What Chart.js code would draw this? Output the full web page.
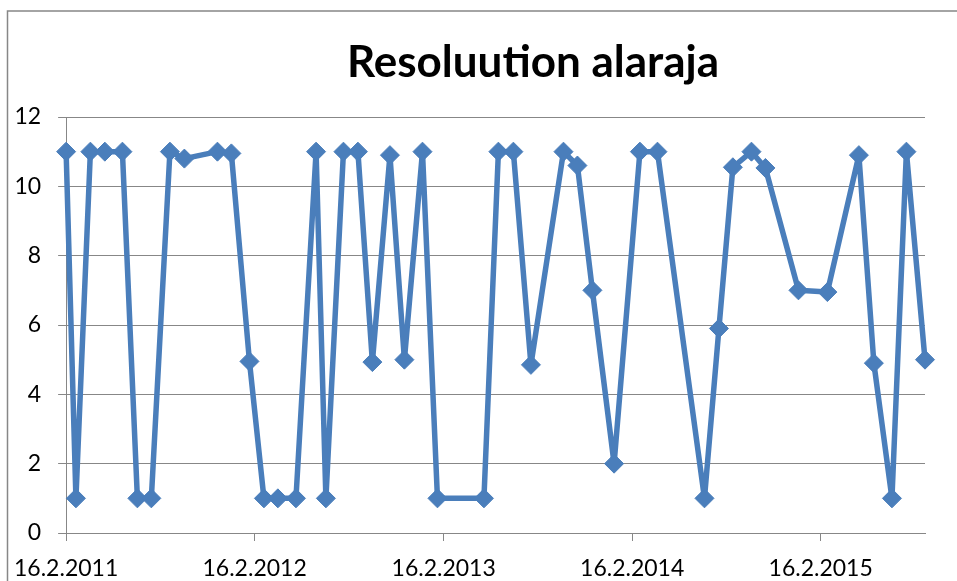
<!DOCTYPE html>
<html>
<head>
<meta charset="utf-8">
<title>Resoluution alaraja</title>
<script src="https://cdn.jsdelivr.net/npm/chart.js@4.4.1/dist/chart.umd.min.js"></script>
<style>
  html, body { margin: 0; padding: 0; background: #fff; }
  #wrap { width: 957px; height: 581px; overflow: hidden; }
</style>
</head>
<body>
<div id="wrap"><canvas id="chart" width="957" height="581"></canvas></div>
<script>
// measurement dates (d.m.yyyy) and the lower resolution limit for each
const dates = [
  "16.2.2011", "7.3.2011", "4.4.2011", "2.5.2011", "5.6.2011", "4.7.2011", "31.7.2011",
  "5.9.2011", "3.10.2011", "6.12.2011", "2.1.2012", "6.2.2012", "5.3.2012", "1.4.2012",
  "6.5.2012", "14.6.2012", "3.7.2012", "6.8.2012", "3.9.2012", "1.10.2012", "4.11.2012",
  "2.12.2012", "6.1.2013", "4.2.2013", "5.5.2013", "2.6.2013", "1.7.2013", "4.8.2013",
  "6.10.2013", "2.11.2013", "1.12.2013", "12.1.2014", "3.3.2014", "6.4.2014", "6.7.2014",
  "3.8.2014", "30.8.2014", "5.10.2014", "1.11.2014", "4.1.2015", "1.3.2015", "1.5.2015",
  "30.5.2015", "4.7.2015", "1.8.2015", "6.9.2015"
];
const values = [
  11, 1, 11, 11, 11, 1, 1,
  11, 10.8, 11, 10.95, 4.95, 1, 1,
  1, 11, 1, 11, 11, 4.93, 10.9,
  5, 11, 1, 1, 11, 11, 4.85,
  11, 10.6, 7, 2, 11, 11, 1,
  5.9, 10.55, 11, 10.53, 7, 6.95, 10.9,
  4.9, 1, 11, 5
];
const tickDates = ["16.2.2011", "16.2.2012", "16.2.2013", "16.2.2014", "16.2.2015"];
const yMin = 0, yMax = 12, yStep = 2;
const titleText = "Resoluution alaraja";

const DAY = 86400000;
const parseDate = (s) => {
  const [d, m, y] = s.split(".").map(Number);
  return Date.UTC(y, m - 1, d) / DAY;
};
const start = parseDate(dates[0]);
const dayOf = (s) => parseDate(s) - start;

const GRID = "#878787";
const BLUE = "#4a7ebb";
const FONT = "Lato";

// white background, chart frame and the title
const frame = {
  id: "frame",
  beforeDraw(chart) {
    const ctx = chart.ctx;
    ctx.save();
    ctx.fillStyle = "#fff";
    ctx.fillRect(0, 0, chart.width, chart.height);
    ctx.strokeStyle = GRID;
    ctx.lineWidth = 1.5;
    ctx.beginPath();
    ctx.moveTo(7.5, chart.height + 2);
    ctx.lineTo(7.5, 11);
    ctx.lineTo(chart.width + 2, 11);
    ctx.stroke();
    ctx.restore();
  },
  afterDraw(chart) {
    const ctx = chart.ctx;
    ctx.save();
    ctx.fillStyle = "#000";
    ctx.font = `bold 44px ${FONT}`;
    ctx.textAlign = "center";
    ctx.textBaseline = "alphabetic";
    ctx.fillText(titleText, 533, 77);
    ctx.restore();
  }
};

function draw() {
  new Chart(document.getElementById("chart"), {
    type: "line",
    data: {
      datasets: [{
        data: dates.map((d, i) => ({ x: dayOf(d), y: values[i] })),
        borderColor: BLUE,
        borderWidth: 5.5,
        borderJoinStyle: "round",
        borderCapStyle: "round",
        pointStyle: "rectRot",
        pointRadius: 9.5,
        pointBackgroundColor: BLUE,
        pointBorderColor: BLUE,
        pointBorderWidth: 1,
        tension: 0,
        clip: false,
      }],
    },
    options: {
      responsive: false,
      animation: false,
      devicePixelRatio: 1,
      layout: { padding: { top: 117, right: 32, bottom: 0, left: 0 } },
      plugins: { legend: { display: false }, tooltip: { enabled: false }, title: { display: false } },
      scales: {
        x: {
          type: "linear",
          min: 0,
          max: dayOf(dates[dates.length - 1]),
          afterBuildTicks: (s) => { s.ticks = tickDates.map(d => ({ value: dayOf(d) })); },
          afterFit: (s) => { s.height = 48; },
          ticks: {
            autoSkip: false,
            maxRotation: 0,
            padding: 14,
            color: "#000",
            font: { family: FONT, size: 23 },
            callback: (v, i) => tickDates[i],
          },
          grid: { drawOnChartArea: false, drawTicks: true, tickLength: 8, color: GRID },
          border: { display: true, color: GRID },
        },
        y: {
          min: yMin,
          max: yMax,
          afterFit: (s) => { s.width = 63; },
          ticks: {
            stepSize: yStep,
            padding: 17,
            color: "#000",
            font: { family: FONT, size: 23 },
          },
          grid: { color: GRID, tickLength: 8 },
          border: { display: true, color: GRID },
        },
      },
    },
    plugins: [frame],
  });
}

Promise.all([
  document.fonts.load(`bold 44px ${FONT}`),
  document.fonts.load(`23px ${FONT}`),
]).then(draw, draw);
</script>
</body>
</html>
